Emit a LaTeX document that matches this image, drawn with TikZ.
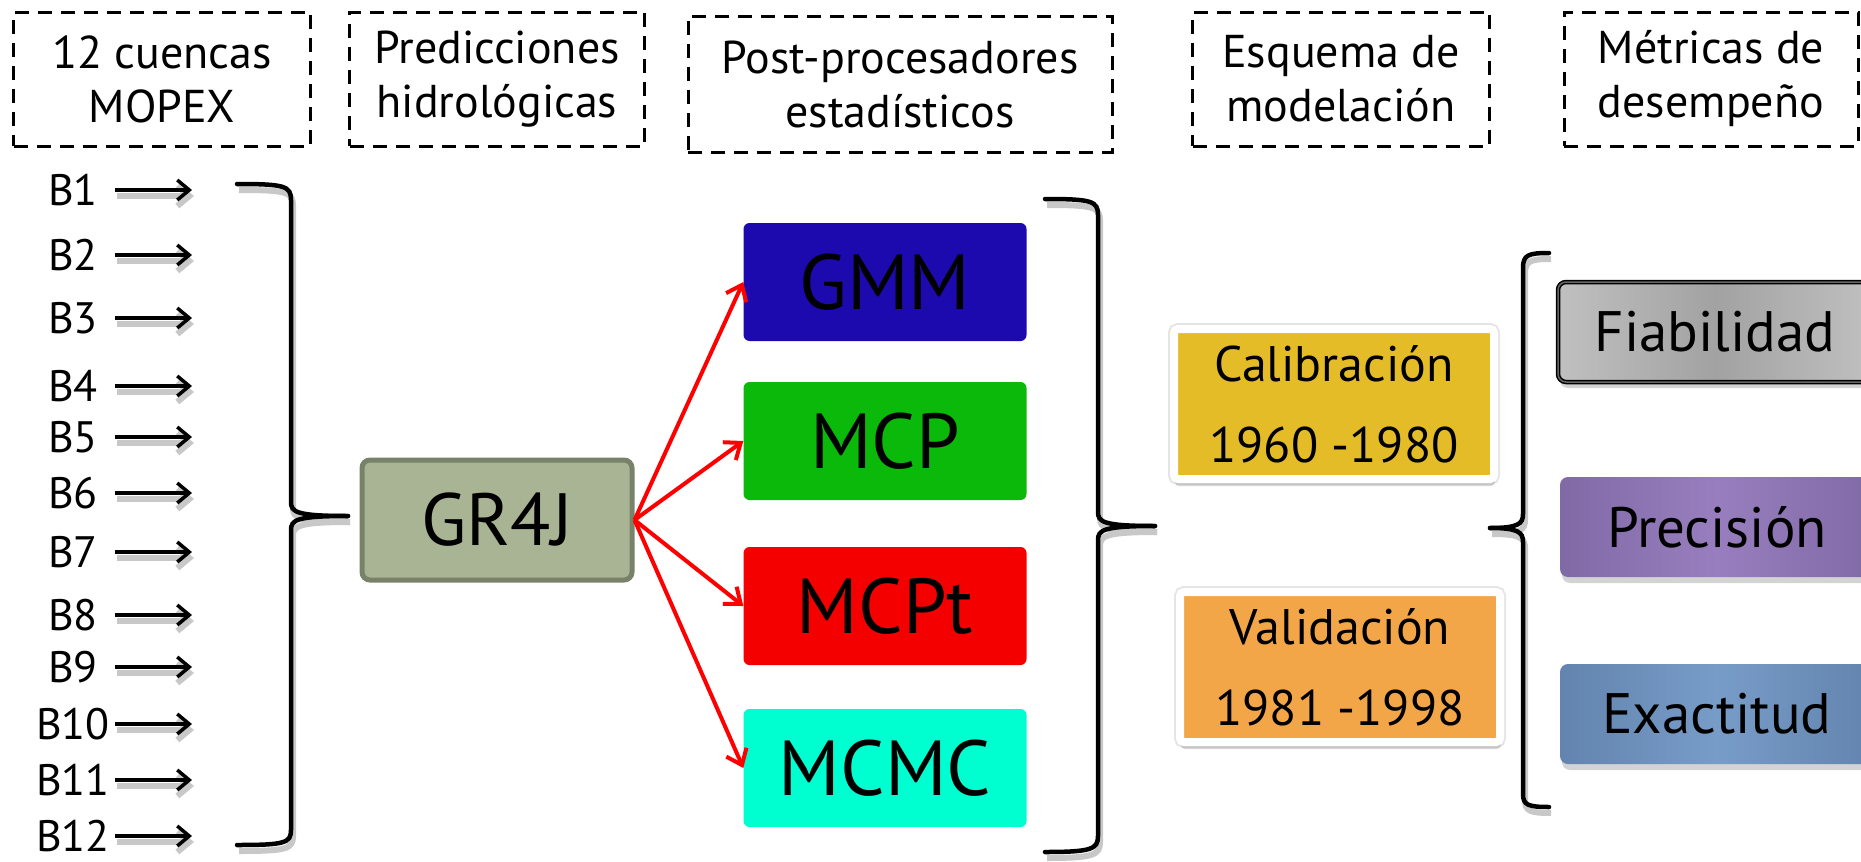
\documentclass[tikz,border=0pt]{standalone}
\usepackage{fontspec}
\setmainfont{PT Sans}
\usetikzlibrary{arrows.meta,shadows,calc}
\definecolor{gmmblue}{RGB}{29,10,175}
\definecolor{mcpgreen}{RGB}{10,185,10}
\definecolor{mcptred}{RGB}{245,0,0}
\definecolor{mcmccyan}{RGB}{0,255,208}
\definecolor{grfill}{RGB}{168,180,148}
\definecolor{grdraw}{RGB}{120,130,104}
\definecolor{calgold}{RGB}{228,188,40}
\definecolor{valorange}{RGB}{242,166,72}
\definecolor{preclight}{RGB}{152,126,190}
\definecolor{precdark}{RGB}{128,106,166}
\definecolor{exlight}{RGB}{120,156,200}
\definecolor{exdark}{RGB}{98,132,174}
\definecolor{fialight}{RGB}{192,192,192}
\definecolor{fiadark}{RGB}{162,162,162}
\definecolor{shadowgray}{RGB}{200,200,200}
\begin{document}
\begin{tikzpicture}[x=1pt,y=-1pt,
  hdr/.style={draw, line width=3pt, dash pattern=on 14pt off 9pt, align=center,
    font=\fontsize{46}{54}\selectfont, inner sep=0pt, minimum height=134pt},
  blab/.style={font=\fontsize{44}{48}\selectfont, inner sep=0pt},
  barrow/.style={line width=3.5pt, -{Straight Barb[length=12pt,width=20pt]},
    preaction={draw=shadowgray, line width=6pt, transform canvas={shift={(2pt,-6pt)}}}},
  rarrow/.style={draw=red, line width=4pt, -{Straight Barb[length=14pt,width=22pt]}},
  pp/.style={rounded corners=6pt, minimum width=283pt, minimum height=118pt,
    font=\fontsize{78}{84}\selectfont, inner sep=0pt},
  brace/.style={line width=4.5pt, line cap=round,
    preaction={draw=shadowgray, line width=6pt, transform canvas={shift={(2pt,-6pt)}}}},
  period/.style={minimum width=320pt, minimum height=150pt, align=center,
    font=\fontsize{50}{81}\selectfont, inner sep=0pt, draw=white, line width=8pt,
    rounded corners=4pt,
    preaction={draw=black!10, line width=12pt},
    drop shadow={opacity=0.3, shadow xshift=1pt, shadow yshift=-7pt}},
  metric/.style={rounded corners=8pt, minimum width=314pt, minimum height=100pt,
    font=\fontsize{57}{62}\selectfont, inner sep=0pt,
    drop shadow={opacity=0.35, shadow xshift=2pt, shadow yshift=-6pt}}
]
\useasboundingbox (0,0) rectangle (1861,862);
\clip (0,0) rectangle (1861,862);

% header boxes
\node[hdr, minimum width=297pt] (h1) at (162,79) {12 cuencas\\MOPEX};
\node[hdr, minimum width=295pt] (h2) at (497,79) {Predicciones\\hidrológicas};
\node[hdr, minimum width=424pt, minimum height=136pt] (h3) at (900,84) {Post-procesadores\\estadísticos};
\node[hdr, minimum width=297pt] (h4) at (1341,79) {Esquema de\\modelación};
\node[hdr, minimum width=294pt] (h5) at (1711,79) {Métricas de\\desempeño};

% basin labels and arrows
\foreach \i/\y in {1/190,2/255,3/318,4/386,5/437,6/493,7/552,8/615,9/667,10/724,11/780,12/836}{
  \node[blab] (B\i) at (73,\y) {B\i};
  \coordinate (s\i) at (115,\y);
  \coordinate (e\i) at (192,\y);
  \draw[barrow] (s\i) -- (e\i);
}

% brace 1
\draw[brace] (237,184) .. controls (285,184) and (291,186) .. (291,200) -- (291,502)
  .. controls (291,512) and (296,516) .. (348,516);
\draw[brace] (348,516) .. controls (296,516) and (291,520) .. (291,530) -- (291,830)
  .. controls (291,843) and (285,845) .. (237,845);

% GR4J
\node[rounded corners=8pt, fill=grfill, draw=grdraw, line width=5pt,
  minimum width=270pt, minimum height=120pt, inner sep=0pt,
  font=\fontsize{74}{80}\selectfont] (gr) at (497,520) {GR4J};

% post-processors
\node[pp, fill=gmmblue] (gmm) at (885,282) {GMM};
\node[pp, fill=mcpgreen] (mcp) at (885,441) {MCP};
\node[pp, fill=mcptred] (mcpt) at (885,606) {MCPt};
\node[pp, fill=mcmccyan] (mcmc) at (885,768) {MCMC};

\draw[rarrow] (gr.east) -- (gmm.west);
\draw[rarrow] (gr.east) -- (mcp.west);
\draw[rarrow] (gr.east) -- (mcpt.west);
\draw[rarrow] (gr.east) -- (mcmc.west);

% brace 2
\draw[brace] (1045,199) .. controls (1092,199) and (1098,201) .. (1098,215) -- (1098,512)
  .. controls (1098,522) and (1103,526) .. (1155,526);
\draw[brace] (1155,526) .. controls (1103,526) and (1098,530) .. (1098,540) -- (1098,836)
  .. controls (1098,849) and (1092,852) .. (1045,852);

% periods
\node[period, fill=calgold] (cal) at (1334,404) {Calibración\\1960 -1980};
\node[period, fill=valorange] (val) at (1340,667) {Validación\\1981 -1998};

% brace 3
\draw[brace] (1549,253) .. controls (1528,253) and (1523,255) .. (1523,268) -- (1523,514)
  .. controls (1523,524) and (1518,528) .. (1490,528);
\draw[brace] (1490,528) .. controls (1518,528) and (1523,532) .. (1523,542) -- (1523,794)
  .. controls (1523,805) and (1528,807) .. (1549,807);

% metrics
\node[metric, draw=black, line width=1.5pt, double=black!60, double distance=1.5pt,
  left color=fialight, right color=fialight, middle color=fiadark] (fia) at (1715,332) {Fiabilidad};
\node[metric, left color=precdark, right color=precdark, middle color=preclight] (pre) at (1717,527) {Precisión};
\node[metric, left color=exdark, right color=exdark, middle color=exlight] (exa) at (1717,714) {Exactitud};
\end{tikzpicture}
\end{document}
